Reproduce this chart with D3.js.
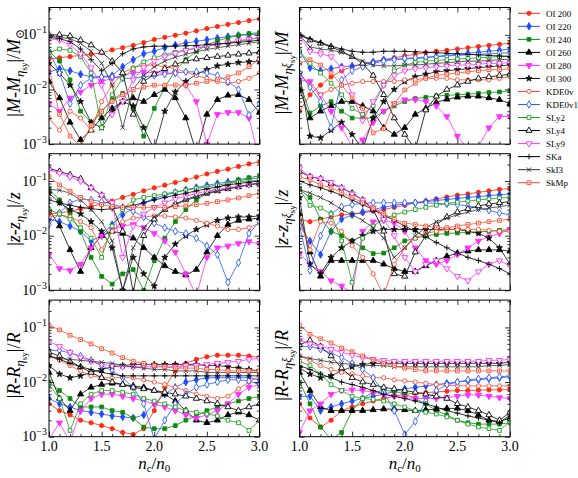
<!DOCTYPE html>
<html>
<head>
<meta charset="utf-8">
<script src="https://cdn.jsdelivr.net/npm/d3@7"></script>
<style>
  body { margin: 0; background: #fff; }
  svg text { font-family: 'Liberation Serif', 'Times New Roman', 'DejaVu Serif', serif; fill: #000; }
</style>
</head>
<body>
<svg id="fig" width="578" height="478" font-family="'Liberation Serif', 'Times New Roman', serif"></svg>
<script>
// n_c / n_0 grid
const nc = [1.0, 1.1, 1.2, 1.3, 1.4, 1.5, 1.6, 1.7, 1.8, 1.9, 2.0, 2.1, 2.2, 2.3, 2.4, 2.5, 2.6, 2.7, 2.8, 2.9, 3.0];
const models = ['OI 200', 'OI 220', 'OI 240', 'OI 260', 'OI 280', 'OI 300', 'KDE0v', 'KDE0v1', 'SLy2', 'SLy4', 'SLy9', 'SKa', 'SkI3', 'SkMp'];
const xTicks = [1.0, 1.5, 2.0, 2.5, 3.0];
const yTickExp = [-1, -2, -3];

// |M - M_eta_sy| / M_sun
const mEta = {
  'OI 200': [0.036,0.038,0.040,0.042,0.044,0.047,0.053,0.058,0.064,0.072,0.082,0.09,0.098,0.107,0.118,0.13,0.142,0.155,0.168,0.182,0.195],
  'OI 220': [0.021,0.024,0.022,0.019,0.017,0.017,0.018,0.026,0.035,0.045,0.05,0.058,0.065,0.071,0.076,0.081,0.087,0.093,0.098,0.1,0.105],
  'OI 240': [0.05,0.033,0.015,0.004,0.0025,0.004,0.0065,0.0085,0.0045,0.0014,0.0045,0.011,0.022,0.035,0.05,0.065,0.078,0.088,0.097,0.105,0.11],
  'OI 260': [0.014,0.007,0.0025,0.0012,0.0018,0.003,0.0045,0.006,0.007,0.006,0.008,0.01,0.007,0.003,0.0007,0.0035,0.0065,0.0078,0.008,0.0065,0.0038],
  'OI 280': [0.0055,0.004,0.007,0.009,0.012,0.014,0.016,0.018,0.02,0.021,0.02,0.02,0.02,0.012,0.006,0.001,0.0035,0.0038,0.0038,0.003,0.0005],
  'OI 300': [0.03,0.02,0.012,0.006,0.0025,0.002,0.004,0.006,0.005,0.002,0.0008,0.004,0.009,0.014,0.019,0.023,0.027,0.029,0.031,0.032,0.033],
  'KDE0v':  [0.003,0.0018,0.004,0.003,0.0018,0.006,0.012,0.02,0.025,0.028,0.028,0.026,0.024,0.021,0.018,0.016,0.014,0.013,0.014,0.016,0.02],
  'KDE0v1': [0.05,0.02,0.0055,0.012,0.016,0.017,0.017,0.016,0.016,0.017,0.018,0.019,0.02,0.021,0.021,0.02,0.018,0.014,0.01,0.0034,0.0055],
  'SLy2':   [0.047,0.055,0.052,0.04,0.02,0.002,0.008,0.016,0.024,0.032,0.038,0.043,0.048,0.053,0.057,0.062,0.066,0.071,0.076,0.082,0.088],
  'SLy4':   [0.1,0.1,0.095,0.08,0.065,0.048,0.033,0.02,0.0035,0.014,0.019,0.024,0.029,0.033,0.036,0.038,0.04,0.042,0.044,0.046,0.048],
  'SLy9':   [0.085,0.08,0.065,0.045,0.025,0.012,0.0035,0.006,0.015,0.025,0.033,0.04,0.046,0.052,0.057,0.062,0.067,0.072,0.078,0.083,0.09],
  'SKa':    [0.09,0.085,0.075,0.055,0.035,0.022,0.03,0.045,0.055,0.06,0.062,0.062,0.062,0.063,0.064,0.066,0.068,0.07,0.073,0.076,0.08],
  'SkI3':   [0.095,0.09,0.085,0.07,0.05,0.03,0.012,0.002,0.01,0.018,0.026,0.033,0.039,0.044,0.049,0.054,0.058,0.062,0.066,0.07,0.075],
  'SkMp':   [0.025,0.0035,0.0014,0.0009,0.0022,0.004,0.006,0.008,0.01,0.011,0.012,0.012,0.012,0.012,0.013,0.014,0.015,0.017,0.02,0.026,0.036]
};

// |z - z_eta_sy| / z
const zEta = {
  'OI 200': [0.025,0.026,0.028,0.031,0.034,0.038,0.043,0.05,0.057,0.066,0.075,0.084,0.094,0.105,0.118,0.135,0.15,0.165,0.185,0.205,0.225],
  'OI 220': [0.02,0.018,0.015,0.012,0.008,0.01,0.016,0.024,0.032,0.04,0.048,0.055,0.062,0.069,0.076,0.083,0.09,0.096,0.102,0.108,0.115],
  'OI 240': [0.07,0.045,0.025,0.012,0.004,0.0018,0.0013,0.002,0.0024,0.001,0.0035,0.009,0.018,0.03,0.045,0.06,0.075,0.09,0.105,0.115,0.125],
  'OI 260': [0.03,0.015,0.0055,0.0022,0.006,0.01,0.012,0.011,0.009,0.006,0.004,0.0028,0.0022,0.0019,0.0024,0.005,0.01,0.016,0.019,0.02,0.021],
  'OI 280': [0.0045,0.0025,0.0023,0.003,0.006,0.01,0.013,0.015,0.016,0.014,0.011,0.008,0.005,0.002,0.0008,0.004,0.006,0.0065,0.0072,0.0078,0.007],
  'OI 300': [0.06,0.04,0.03,0.025,0.018,0.012,0.006,0.001,0.004,0.002,0.0012,0.004,0.007,0.01,0.013,0.016,0.019,0.021,0.022,0.022,0.023],
  'KDE0v':  [0.022,0.024,0.022,0.018,0.014,0.0055,0.012,0.018,0.021,0.022,0.023,0.023,0.022,0.021,0.019,0.017,0.015,0.013,0.013,0.014,0.017],
  'KDE0v1': [0.016,0.026,0.04,0.047,0.045,0.042,0.038,0.033,0.028,0.022,0.017,0.014,0.012,0.011,0.009,0.0065,0.0045,0.0014,0.0032,0.011,0.018],
  'SLy2':   [0.03,0.025,0.02,0.014,0.009,0.004,0.015,0.03,0.045,0.05,0.054,0.058,0.063,0.068,0.073,0.078,0.084,0.09,0.096,0.1,0.105],
  'SLy4':   [0.17,0.15,0.13,0.11,0.075,0.055,0.035,0.012,0.0009,0.01,0.02,0.03,0.038,0.046,0.053,0.06,0.066,0.072,0.078,0.085,0.09],
  'SLy9':   [0.16,0.14,0.12,0.1,0.075,0.055,0.04,0.004,0.015,0.025,0.033,0.04,0.047,0.053,0.059,0.065,0.07,0.075,0.08,0.085,0.09],
  'SKa':    [0.045,0.04,0.036,0.033,0.031,0.03,0.031,0.033,0.036,0.04,0.045,0.05,0.055,0.06,0.066,0.072,0.078,0.085,0.09,0.095,0.1],
  'SkI3':   [0.07,0.068,0.06,0.045,0.03,0.018,0.008,0.001,0.006,0.014,0.022,0.03,0.037,0.044,0.051,0.058,0.065,0.072,0.079,0.086,0.093],
  'SkMp':   [0.12,0.085,0.065,0.05,0.042,0.037,0.034,0.033,0.033,0.033,0.033,0.033,0.034,0.035,0.037,0.039,0.042,0.045,0.049,0.054,0.06]
};

// |R - R_eta_sy| / R
const rEta = {
  'OI 200': [0.004,0.003,0.0025,0.002,0.0018,0.0016,0.0014,0.0012,0.0011,0.0014,0.003,0.008,0.016,0.022,0.026,0.029,0.031,0.031,0.031,0.03,0.028],
  'OI 220': [0.005,0.004,0.0035,0.003,0.0028,0.0026,0.0024,0.0023,0.0022,0.0025,0.004,0.006,0.008,0.01,0.011,0.012,0.012,0.012,0.012,0.012,0.011],
  'OI 240': [0.01,0.007,0.005,0.0035,0.0035,0.0035,0.003,0.0028,0.0022,0.0015,0.0014,0.0014,0.0016,0.002,0.0024,0.003,0.0035,0.004,0.0045,0.005,0.0055],
  'OI 260': [0.015,0.005,0.003,0.006,0.008,0.009,0.0095,0.009,0.0085,0.008,0.007,0.006,0.0045,0.003,0.002,0.0018,0.002,0.0025,0.0028,0.0025,0.002],
  'OI 280': [0.0009,0.0018,0.0008,0.003,0.005,0.006,0.006,0.0055,0.005,0.0045,0.004,0.0035,0.003,0.0025,0.0022,0.0025,0.003,0.004,0.006,0.008,0.009],
  'OI 300': [0.02,0.014,0.012,0.013,0.015,0.017,0.019,0.02,0.021,0.021,0.021,0.021,0.021,0.021,0.021,0.02,0.02,0.019,0.018,0.017,0.016],
  'KDE0v':  [0.03,0.025,0.02,0.016,0.013,0.012,0.012,0.012,0.012,0.011,0.01,0.009,0.008,0.007,0.006,0.0055,0.005,0.0055,0.0075,0.01,0.013],
  'KDE0v1': [0.038,0.038,0.034,0.03,0.025,0.02,0.016,0.012,0.008,0.004,0.0009,0.002,0.004,0.006,0.008,0.009,0.01,0.011,0.011,0.0105,0.009],
  'SLy2':   [0.009,0.005,0.0013,0.004,0.006,0.007,0.007,0.0065,0.006,0.005,0.0045,0.004,0.0035,0.003,0.0028,0.0026,0.0024,0.002,0.0018,0.0013,0.002],
  'SLy4':   [0.035,0.03,0.024,0.019,0.015,0.012,0.01,0.009,0.008,0.0075,0.007,0.0065,0.006,0.0055,0.005,0.0045,0.004,0.0035,0.003,0.0035,0.004],
  'SLy9':   [0.055,0.045,0.035,0.028,0.024,0.021,0.02,0.019,0.019,0.019,0.019,0.019,0.019,0.02,0.02,0.021,0.022,0.023,0.024,0.026,0.027],
  'SKa':    [0.03,0.026,0.022,0.019,0.017,0.015,0.014,0.013,0.013,0.013,0.013,0.013,0.013,0.013,0.013,0.013,0.013,0.013,0.013,0.013,0.013],
  'SkI3':   [0.03,0.027,0.026,0.025,0.024,0.023,0.022,0.02,0.019,0.018,0.017,0.017,0.016,0.016,0.016,0.015,0.015,0.015,0.015,0.015,0.015],
  'SkMp':   [0.11,0.09,0.072,0.06,0.05,0.041,0.034,0.028,0.024,0.022,0.02,0.019,0.018,0.018,0.018,0.017,0.017,0.016,0.016,0.016,0.016]
};

// |M - M_eta_xi_sy| / M
const mXi = {
  'OI 200': [0.004,0.008,0.012,0.017,0.022,0.026,0.029,0.032,0.035,0.038,0.041,0.044,0.047,0.05,0.052,0.055,0.058,0.061,0.064,0.067,0.07],
  'OI 220': [0.05,0.025,0.022,0.024,0.026,0.027,0.029,0.032,0.035,0.036,0.036,0.037,0.038,0.04,0.042,0.044,0.046,0.048,0.05,0.052,0.055],
  'OI 240': [0.014,0.0037,0.005,0.006,0.004,0.003,0.003,0.003,0.004,0.005,0.006,0.0068,0.0072,0.0076,0.0078,0.008,0.0082,0.0085,0.0088,0.009,0.0095],
  'OI 260': [0.01,0.003,0.004,0.005,0.006,0.006,0.005,0.004,0.002,0.0015,0.002,0.0035,0.0045,0.0058,0.0066,0.0072,0.0075,0.0075,0.007,0.0065,0.0055],
  'OI 280': [0.015,0.014,0.008,0.004,0.002,0.0009,0.0012,0.0025,0.004,0.0055,0.0065,0.0065,0.006,0.005,0.0032,0.0014,0.0008,0.0009,0.002,0.0032,0.0032],
  'OI 300': [0.02,0.0014,0.0013,0.0018,0.0025,0.0015,0.0008,0.003,0.006,0.01,0.014,0.017,0.019,0.021,0.022,0.023,0.024,0.025,0.026,0.027,0.028],
  'KDE0v':  [0.02,0.012,0.008,0.01,0.012,0.013,0.014,0.014,0.014,0.014,0.015,0.015,0.016,0.016,0.016,0.015,0.015,0.015,0.015,0.016,0.017],
  'KDE0v1': [0.02,0.011,0.006,0.002,0.015,0.022,0.026,0.03,0.033,0.035,0.037,0.038,0.039,0.04,0.041,0.042,0.043,0.044,0.045,0.046,0.047],
  'SLy2':   [0.05,0.03,0.02,0.013,0.008,0.0045,0.0035,0.005,0.012,0.022,0.028,0.031,0.033,0.034,0.035,0.036,0.037,0.038,0.039,0.04,0.041],
  'SLy4':   [0.1,0.08,0.07,0.06,0.05,0.04,0.03,0.018,0.008,0.003,0.0015,0.0008,0.0042,0.0075,0.01,0.012,0.014,0.016,0.017,0.018,0.019],
  'SLy9':   [0.095,0.05,0.045,0.04,0.025,0.008,0.0027,0.006,0.012,0.018,0.022,0.024,0.025,0.026,0.027,0.028,0.028,0.029,0.03,0.03,0.031],
  'SKa':    [0.1,0.085,0.072,0.062,0.055,0.05,0.048,0.048,0.05,0.05,0.05,0.049,0.048,0.047,0.046,0.045,0.044,0.043,0.042,0.041,0.04],
  'SkI3':   [0.1,0.06,0.055,0.052,0.048,0.04,0.033,0.028,0.027,0.027,0.028,0.028,0.029,0.03,0.031,0.032,0.033,0.033,0.034,0.035,0.036],
  'SkMp':   [0.03,0.035,0.028,0.02,0.012,0.007,0.0045,0.0016,0.0019,0.0055,0.0098,0.013,0.016,0.018,0.019,0.02,0.021,0.022,0.023,0.023,0.024]
};

// |z - z_eta_xi_sy| / z
const zXi = {
  'OI 200': [0.02,0.018,0.02,0.022,0.024,0.025,0.026,0.028,0.03,0.033,0.036,0.04,0.043,0.047,0.051,0.055,0.058,0.062,0.066,0.07,0.073],
  'OI 220': [0.015,0.008,0.0045,0.012,0.02,0.024,0.027,0.03,0.033,0.036,0.038,0.04,0.042,0.044,0.046,0.048,0.05,0.052,0.054,0.056,0.058],
  'OI 240': [0.07,0.05,0.02,0.012,0.01,0.008,0.006,0.0047,0.0048,0.006,0.008,0.009,0.01,0.0105,0.011,0.0112,0.0115,0.0118,0.012,0.0125,0.013],
  'OI 260': [0.025,0.005,0.0018,0.0035,0.0035,0.0035,0.0035,0.0035,0.003,0.0025,0.0022,0.0022,0.0028,0.0035,0.0042,0.0048,0.0052,0.0055,0.0055,0.0055,0.0052],
  'OI 280': [0.0047,0.003,0.0022,0.0015,0.0012,0.0009,0.012,0.018,0.019,0.017,0.012,0.006,0.0035,0.003,0.0035,0.0045,0.006,0.008,0.0095,0.011,0.013],
  'OI 300': [0.05,0.003,0.002,0.004,0.006,0.008,0.01,0.012,0.013,0.013,0.013,0.013,0.013,0.013,0.013,0.013,0.012,0.011,0.009,0.006,0.003],
  'KDE0v':  [0.02,0.0055,0.018,0.017,0.012,0.0065,0.004,0.002,0.0008,0.003,0.006,0.009,0.011,0.012,0.013,0.013,0.013,0.013,0.0125,0.012,0.012],
  'KDE0v1': [0.015,0.0023,0.01,0.025,0.034,0.037,0.039,0.04,0.04,0.04,0.04,0.04,0.04,0.039,0.038,0.037,0.035,0.032,0.029,0.026,0.024],
  'SLy2':   [0.07,0.036,0.032,0.025,0.008,0.0014,0.009,0.015,0.02,0.024,0.027,0.03,0.033,0.036,0.039,0.041,0.043,0.045,0.047,0.049,0.05],
  'SLy4':   [0.15,0.12,0.11,0.09,0.075,0.06,0.045,0.03,0.012,0.002,0.0018,0.005,0.01,0.016,0.022,0.027,0.031,0.035,0.038,0.04,0.042],
  'SLy9':   [0.17,0.12,0.11,0.095,0.075,0.058,0.045,0.032,0.02,0.01,0.004,0.0022,0.003,0.0035,0.0025,0.0018,0.0015,0.0022,0.003,0.0035,0.0028],
  'SKa':    [0.1,0.085,0.075,0.065,0.055,0.045,0.037,0.03,0.024,0.019,0.015,0.012,0.0095,0.0075,0.006,0.0048,0.004,0.0035,0.003,0.0025,0.002],
  'SkI3':   [0.07,0.06,0.05,0.04,0.03,0.024,0.019,0.014,0.009,0.004,0.006,0.01,0.014,0.018,0.021,0.024,0.027,0.03,0.032,0.034,0.036],
  'SkMp':   [0.12,0.105,0.085,0.075,0.062,0.05,0.04,0.032,0.025,0.02,0.017,0.016,0.015,0.014,0.014,0.015,0.016,0.017,0.018,0.019,0.02]
};

// |R - R_eta_xi_sy| / R
const rXi = {
  'OI 200': [0.004,0.0022,0.0015,0.002,0.003,0.0035,0.004,0.0045,0.005,0.0055,0.006,0.0062,0.0064,0.0066,0.0068,0.007,0.007,0.0071,0.0072,0.0072,0.0073],
  'OI 220': [0.0055,0.0055,0.003,0.0035,0.004,0.0045,0.005,0.0055,0.006,0.0067,0.0075,0.008,0.0085,0.009,0.0095,0.01,0.0105,0.011,0.0115,0.012,0.0125],
  'OI 240': [0.01,0.004,0.0015,0.0009,0.0012,0.003,0.005,0.0065,0.007,0.0068,0.006,0.005,0.004,0.003,0.0025,0.002,0.0018,0.0017,0.0017,0.0017,0.0018],
  'OI 260': [0.015,0.007,0.0035,0.003,0.003,0.003,0.003,0.0031,0.0032,0.0032,0.0031,0.003,0.0031,0.0032,0.0033,0.0033,0.003,0.0025,0.002,0.0019,0.0022],
  'OI 280': [0.0012,0.003,0.004,0.006,0.007,0.0072,0.007,0.0065,0.006,0.0055,0.0052,0.005,0.005,0.005,0.0052,0.0055,0.0058,0.0058,0.0055,0.0052,0.005],
  'OI 300': [0.018,0.014,0.012,0.013,0.016,0.019,0.021,0.022,0.022,0.022,0.022,0.022,0.022,0.022,0.022,0.022,0.022,0.022,0.022,0.022,0.023],
  'KDE0v':  [0.03,0.025,0.02,0.017,0.015,0.014,0.013,0.012,0.012,0.011,0.0105,0.01,0.0095,0.009,0.0088,0.0086,0.0085,0.0085,0.0085,0.0085,0.0085],
  'KDE0v1': [0.045,0.045,0.04,0.034,0.028,0.022,0.017,0.012,0.0065,0.003,0.0011,0.0019,0.0045,0.007,0.009,0.01,0.011,0.0115,0.012,0.0125,0.013],
  'SLy2':   [0.024,0.02,0.014,0.009,0.007,0.0055,0.005,0.0048,0.0045,0.004,0.0035,0.003,0.0028,0.0026,0.0023,0.002,0.0017,0.0015,0.0014,0.0013,0.0019],
  'SLy4':   [0.048,0.058,0.045,0.03,0.018,0.012,0.01,0.009,0.008,0.0075,0.007,0.0065,0.006,0.0055,0.005,0.004,0.0035,0.003,0.0025,0.002,0.0028],
  'SLy9':   [0.058,0.05,0.045,0.04,0.035,0.031,0.028,0.026,0.025,0.024,0.024,0.024,0.024,0.024,0.024,0.024,0.024,0.024,0.025,0.025,0.026],
  'SKa':    [0.02,0.017,0.014,0.012,0.01,0.009,0.008,0.007,0.006,0.0055,0.005,0.0045,0.004,0.0035,0.003,0.0027,0.0024,0.0022,0.002,0.0018,0.0025],
  'SkI3':   [0.03,0.027,0.025,0.023,0.022,0.021,0.02,0.02,0.02,0.019,0.019,0.019,0.019,0.019,0.019,0.019,0.019,0.019,0.02,0.02,0.021],
  'SkMp':   [0.11,0.075,0.062,0.052,0.042,0.036,0.03,0.026,0.022,0.02,0.018,0.017,0.016,0.016,0.016,0.016,0.016,0.016,0.016,0.016,0.016]
};

// marker style per model
const style = {
  'OI 200': { color: '#ff2a12', shape: 'circle', open: false },
  'OI 220': { color: '#1f4cff', shape: 'diamond', open: false },
  'OI 240': { color: '#0d8a0d', shape: 'square', open: false },
  'OI 260': { color: '#000000', shape: 'triUp', open: false },
  'OI 280': { color: '#ff30ff', shape: 'triDown', open: false },
  'OI 300': { color: '#111111', shape: 'star', open: false },
  'KDE0v':  { color: '#ff4a2e', shape: 'circle', open: true },
  'KDE0v1': { color: '#2a5bff', shape: 'diamond', open: true },
  'SLy2':   { color: '#18a018', shape: 'square', open: true },
  'SLy4':   { color: '#000000', shape: 'triUp', open: true },
  'SLy9':   { color: '#ff30ff', shape: 'triDown', open: true },
  'SKa':    { color: '#000000', shape: 'plus', open: false },
  'SkI3':   { color: '#333333', shape: 'cross', open: false },
  'SkMp':   { color: '#ff4a2e', shape: 'dotSquare', open: true }
};

const svg = d3.select('#fig');
const W = 210.5, H = 136.6;
const colX = [49, 299.5];
const rowY = [7.5, 153.7, 300.1];

const x = d3.scaleLinear().domain([1, 3]).range([0, W]);
const y = d3.scaleLog().domain([1e-3, Math.pow(10, -0.5)]).range([H, 0]);

function markerPath(shape) {
  switch (shape) {
    case 'circle': return d3.symbol(d3.symbolCircle, 14)();
    case 'diamond': return d3.symbol(d3.symbolDiamond, 16)();
    case 'square':
    case 'dotSquare': return d3.symbol(d3.symbolSquare, 14)();
    case 'triUp': return d3.symbol(d3.symbolTriangle, 16)();
    case 'triDown': return d3.symbol(d3.symbolTriangle, 16)();
    case 'star': return d3.symbol(d3.symbolStar, 12)();
    case 'plus': return 'M-2.8,0H2.8M0,-2.8V2.8';
    case 'cross': return 'M-2.2,-2.2L2.2,2.2M-2.2,2.2L2.2,-2.2';
  }
}

function drawMarker(sel, name) {
  const s = style[name];
  const p = sel.append('path')
    .attr('d', markerPath(s.shape))
    .attr('stroke', s.color)
    .attr('stroke-width', 0.9)
    .attr('fill', s.open ? '#fff' : s.color);
  if (s.shape === 'plus' || s.shape === 'cross') p.attr('fill', 'none');
  if (s.shape === 'triDown') p.attr('transform', 'rotate(180)');
  if (s.shape === 'dotSquare') {
    sel.append('circle').attr('r', 0.8).attr('fill', s.color);
  }
}

function yTitle(g, cx, cy, q, xi, sun) {
  const t = g.append('text')
    .attr('transform', `translate(${cx},${cy}) rotate(-90)`)
    .attr('text-anchor', 'middle')
    .attr('font-size', 18);
  t.append('tspan').text('|');
  t.append('tspan').attr('font-style', 'italic').text(q);
  t.append('tspan').text('-');
  t.append('tspan').attr('font-style', 'italic').text(q);
  t.append('tspan').attr('font-style', 'italic').attr('font-size', 13).attr('dy', 4).text('η');
  if (xi) t.append('tspan').attr('font-style', 'italic').attr('font-size', 12).attr('dy', -1).text('ξ');
  t.append('tspan').attr('font-size', 9).attr('dy', xi ? 4 : 3).text('sy');
  t.append('tspan').attr('dy', -7).text('|/');
  t.append('tspan').attr('font-style', 'italic').text(q);
  if (sun) t.append('tspan').attr('font-size', 12).attr('dy', 4).text('⊙');
}

const panels = [
  { data: mEta, col: 0, row: 0, q: 'M', xi: false, sun: true },
  { data: zEta, col: 0, row: 1, q: 'z', xi: false, sun: false },
  { data: rEta, col: 0, row: 2, q: 'R', xi: false, sun: false },
  { data: mXi, col: 1, row: 0, q: 'M', xi: true, sun: false },
  { data: zXi, col: 1, row: 1, q: 'z', xi: true, sun: false },
  { data: rXi, col: 1, row: 2, q: 'R', xi: true, sun: false }
];

const yMajor = yTickExp.map(e => Math.pow(10, e));
const yMinor = y.ticks().filter(v => !yMajor.some(m => Math.abs(m - v) < 1e-12));
const xMinor = nc.filter(v => !xTicks.some(m => Math.abs(m - v) < 1e-9));

panels.forEach((p, i) => {
  const g = svg.append('g')
    .attr('transform', `translate(${colX[p.col]},${rowY[p.row]})`);

  g.append('clipPath').attr('id', 'clip' + i)
    .append('rect').attr('width', W).attr('height', H);

  const plot = g.append('g').attr('clip-path', `url(#clip${i})`);

  const line = d3.line()
    .x((d, j) => x(nc[j]))
    .y(d => y(d));

  models.forEach(name => {
    const vals = p.data[name];
    const s = style[name];
    plot.append('path')
      .datum(vals)
      .attr('fill', 'none')
      .attr('stroke', s.color)
      .attr('stroke-width', 0.8)
      .attr('d', line);
    plot.selectAll(null)
      .data(vals).enter()
      .append('g')
      .attr('transform', (d, j) => `translate(${x(nc[j])},${y(d)})`)
      .each(function() { drawMarker(d3.select(this), name); });
  });

  // axes with inward ticks on all sides
  const axes = [
    [d3.axisBottom(x), `translate(0,${H})`, xTicks, xMinor],
    [d3.axisTop(x), 'translate(0,0)', xTicks, xMinor],
    [d3.axisLeft(y), 'translate(0,0)', yMajor, yMinor],
    [d3.axisRight(y), `translate(${W},0)`, yMajor, yMinor]
  ];
  axes.forEach(([ax, tr, major, minor]) => {
    g.append('g').attr('transform', tr)
      .call(ax.tickValues(major).tickSize(-5).tickFormat(''))
      .call(a => a.select('.domain').remove());
    g.append('g').attr('transform', tr)
      .call(ax.tickValues(minor).tickSize(-2.6).tickFormat(''))
      .call(a => a.select('.domain').remove());
  });
  g.selectAll('.tick line').attr('stroke', '#000').attr('stroke-width', 0.8);

  g.append('rect')
    .attr('width', W).attr('height', H)
    .attr('fill', 'none').attr('stroke', '#000').attr('stroke-width', 1);

  // y tick labels on the left column
  if (p.col === 0) {
    yTickExp.forEach(e => {
      const t = g.append('text')
        .attr('x', -2)
        .attr('y', y(Math.pow(10, e)) + 4.5)
        .attr('text-anchor', 'end')
        .attr('font-size', 14);
      t.append('tspan').text('10');
      t.append('tspan').attr('font-size', 10).attr('dy', -6).text('−' + Math.abs(e));
    });
  }

  // x tick labels and title on the bottom row
  if (p.row === 2) {
    xTicks.forEach(v => {
      g.append('text')
        .attr('x', x(v)).attr('y', H + 14)
        .attr('text-anchor', 'middle')
        .attr('font-size', 14)
        .text(v.toFixed(1));
    });
    const t = g.append('text')
      .attr('x', W / 2).attr('y', H + 32)
      .attr('text-anchor', 'middle')
      .attr('font-size', 17);
    t.append('tspan').attr('font-style', 'italic').text('n');
    t.append('tspan').attr('font-size', 11).attr('dy', 3).text('c');
    t.append('tspan').attr('dy', -3).text('/');
    t.append('tspan').attr('font-style', 'italic').text('n');
    t.append('tspan').attr('font-size', 11).attr('dy', 3).text('0');
  }

  yTitle(svg, p.col === 0 ? 20 : 287.5, rowY[p.row] + H / 2 - 3, p.q, p.xi, p.sun);
});

// legend
const legend = svg.append('g').attr('transform', 'translate(518,13.3)');
models.forEach((name, k) => {
  const row = legend.append('g').attr('transform', `translate(0,${k * 13.03})`);
  row.append('line')
    .attr('x1', 0).attr('x2', 22)
    .attr('stroke', style[name].color)
    .attr('stroke-width', 1);
  const m = row.append('g').attr('transform', 'translate(11,0)');
  drawMarker(m, name);
  row.append('text')
    .attr('x', 28).attr('y', 3.3)
    .attr('font-size', 9)
    .text(name);
});
</script>
</body>
</html>
